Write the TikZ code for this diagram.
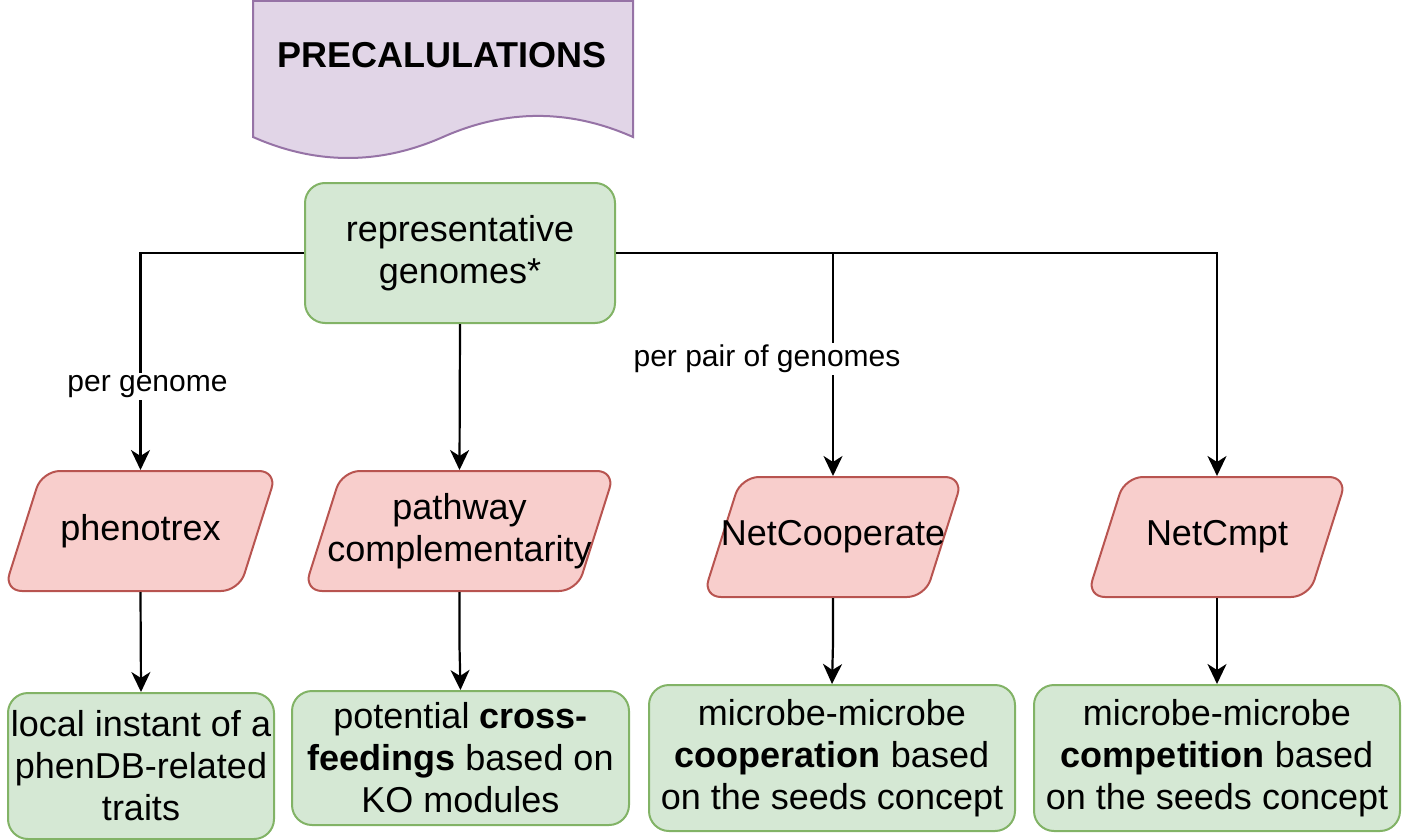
\documentclass[tikz,border=0pt]{standalone}
\usepackage{fontspec}
\setmainfont{Liberation Sans}
\usetikzlibrary{arrows.meta}
\definecolor{gfill}{HTML}{D5E8D4}
\definecolor{gline}{HTML}{82B366}
\definecolor{rfill}{HTML}{F8CECC}
\definecolor{rline}{HTML}{B85450}
\definecolor{pfill}{HTML}{E1D5E7}
\definecolor{pline}{HTML}{9673A6}
\begin{document}
\begin{tikzpicture}[x=1pt,y=-1pt,
  line width=2pt,
  txt/.style={font=\fontsize{36}{42}\selectfont, align=center, inner sep=0pt},
  gbox/.style={draw=gline, fill=gfill, rounded corners=20pt, line width=2pt, txt},
  pshape/.style={draw=rline, fill=rfill, rounded corners=18pt, line width=2pt},
  docshape/.style={draw=pline, fill=pfill, line width=2pt},
  arr/.style={-{Stealth[length=20pt,width=19pt,inset=6pt]}, line width=2.2pt},
  lbl/.style={font=\fontsize{30}{34}\selectfont, fill=white, inner sep=2pt}]
\useasboundingbox (0,0) rectangle (1402,840);

% document shape
\draw[docshape] (253,1) -- (633,1) -- (633,137) .. controls (569.7,108.9) and (506.3,108.9) .. (443,137) .. controls (379.7,165) and (316.3,165) .. (253,137) -- cycle;
\node[font=\fontsize{36}{42}\selectfont\bfseries, inner sep=0pt] (pre) at (442,55) {PRECALULATIONS};

% top node
\node[gbox, minimum width=310pt, minimum height=140pt] (rep) at (460,253) {representative\\genomes*};

% parallelograms
\draw[pshape] (42,471) -- (277,471) -- (239,591) -- (4,591) -- cycle;
\node[txt, minimum width=273pt, minimum height=120pt] (phen) at (140.5,531) {phenotrex};
\draw[pshape] (342,471) -- (615,471) -- (577,591) -- (304,591) -- cycle;
\node[txt, minimum width=311pt, minimum height=120pt] (path) at (459.5,531) {pathway\\complementarity};
\draw[pshape] (741,477) -- (963,477) -- (925,597) -- (703,597) -- cycle;
\node[txt, minimum width=260pt, minimum height=120pt] (coop) at (833,537) {NetCooperate};
\draw[pshape] (1125,477) -- (1347,477) -- (1309,597) -- (1087,597) -- cycle;
\node[txt, minimum width=260pt, minimum height=120pt] (cmpt) at (1217,537) {NetCmpt};

% bottom boxes
\node[gbox, minimum width=266pt, minimum height=146pt] (local) at (141,766) {local instant of a\\phenDB-related\\traits};
\node[gbox, minimum width=337pt, minimum height=134pt] (cross) at (460.5,758) {potential \textbf{cross-}\\\textbf{feedings} based on\\KO modules};
\node[gbox, minimum width=366pt, minimum height=146pt] (mcoop) at (832,758) {microbe-microbe\\\textbf{cooperation} based\\on the seeds concept};
\node[gbox, minimum width=366pt, minimum height=146pt] (mcmpt) at (1217,758) {microbe-microbe\\\textbf{competition} based\\on the seeds concept};

% connectors
\draw[arr] (rep.west) -| (phen.north) node[lbl, pos=0.808, xshift=7pt] {per genome};
\draw[arr] (rep.south) -- (path.north);
\draw[arr] (rep.east) -| (coop.north) node[lbl, pos=0.737, xshift=-66pt] {per pair of genomes};
\draw[arr] (rep.east) -| (cmpt.north);
\draw[arr] (phen.south) -- (local.north);
\draw[arr] (path.south) -- ++(0,54) -- (cross.north);
\draw[arr] (coop.south) -- ++(0,45) -- (mcoop.north);
\draw[arr] (cmpt.south) -- (mcmpt.north);
\end{tikzpicture}
\end{document}
